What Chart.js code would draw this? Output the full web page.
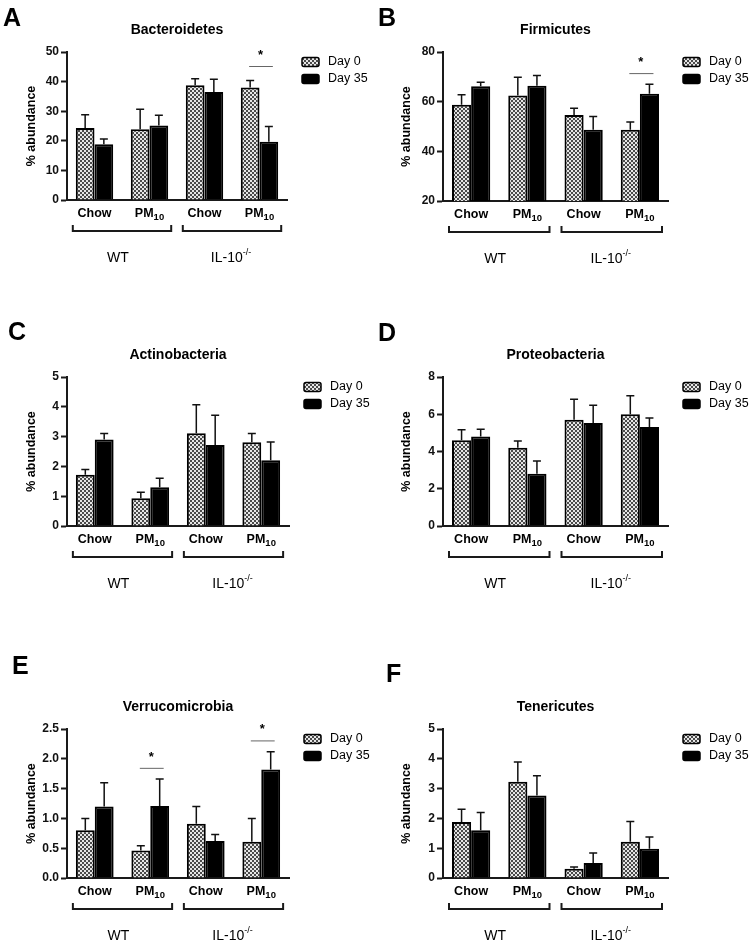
<!DOCTYPE html>
<html><head><meta charset="utf-8">
<script src="https://cdn.jsdelivr.net/npm/chart.js@4.4.1/dist/chart.umd.min.js"></script>
<style>
html,body{margin:0;padding:0;background:#fff;}
body{width:749px;height:943px;position:relative;overflow:hidden;}
canvas{position:absolute;display:block;}
</style>
</head><body>
<canvas id="cA" width="375" height="290" style="left:0;top:0;width:375px;height:290px"></canvas>
<canvas id="cB" width="374" height="290" style="left:375px;top:0;width:374px;height:290px"></canvas>
<canvas id="cC" width="375" height="310" style="left:0;top:290px;width:375px;height:310px"></canvas>
<canvas id="cD" width="374" height="310" style="left:375px;top:290px;width:374px;height:310px"></canvas>
<canvas id="cE" width="375" height="343" style="left:0;top:600px;width:375px;height:343px"></canvas>
<canvas id="cF" width="374" height="343" style="left:375px;top:600px;width:374px;height:343px"></canvas>
<script>
// ---------- data ----------
const categories = ['Chow', 'PM10', 'Chow', 'PM10'];
const genotypes = ['WT', 'IL-10'];
const seriesLabels = ['Day 0', 'Day 35'];

const bacteroidetesDay0 = [24.3, 23.9, 38.8, 38.0];
const bacteroidetesDay35 = [18.8, 25.2, 36.5, 19.7];
const bacteroidetesErr0 = [4.5, 6.8, 2.2, 2.4];
const bacteroidetesErr35 = [1.8, 3.4, 4.3, 5.1];
const bacteroidetesTicks = [0, 50, 10];
const bacteroidetesSig = [3];
const bacteroidetesSigLevel = [45.1];

const firmicutesDay0 = [58.8, 62.5, 54.6, 48.7];
const firmicutesDay35 = [66.2, 66.4, 48.7, 63.2];
const firmicutesErr0 = [4.0, 7.3, 2.7, 3.1];
const firmicutesErr35 = [1.6, 4.1, 5.3, 3.8];
const firmicutesTicks = [20, 80, 20];
const firmicutesSig = [3];
const firmicutesSigLevel = [71.3];

const actinobacteriaDay0 = [1.72, 0.93, 3.11, 2.81];
const actinobacteriaDay35 = [2.9, 1.3, 2.72, 2.21];
const actinobacteriaErr0 = [0.18, 0.2, 0.96, 0.29];
const actinobacteriaErr35 = [0.2, 0.3, 1.0, 0.61];
const actinobacteriaTicks = [0, 5, 1];
const actinobacteriaSig = [];
const actinobacteriaSigLevel = [];

const proteobacteriaDay0 = [4.6, 4.2, 5.7, 6.0];
const proteobacteriaDay35 = [4.8, 2.8, 5.53, 5.31];
const proteobacteriaErr0 = [0.57, 0.36, 1.1, 1.0];
const proteobacteriaErr35 = [0.4, 0.69, 0.95, 0.49];
const proteobacteriaTicks = [0, 8, 2];
const proteobacteriaSig = [];
const proteobacteriaSigLevel = [];

const verrucomicrobiaDay0 = [0.80, 0.46, 0.91, 0.61];
const verrucomicrobiaDay35 = [1.2, 1.21, 0.62, 1.82];
const verrucomicrobiaErr0 = [0.2, 0.08, 0.29, 0.39];
const verrucomicrobiaErr35 = [0.4, 0.45, 0.11, 0.3];
const verrucomicrobiaTicks = [0, 2.5, 0.5];
const verrucomicrobiaSig = [1, 3];
const verrucomicrobiaSigLevel = [1.84, 2.30];

const tenericutesDay0 = [1.88, 3.23, 0.31, 1.22];
const tenericutesDay35 = [1.6, 2.77, 0.5, 0.98];
const tenericutesErr0 = [0.43, 0.66, 0.06, 0.68];
const tenericutesErr35 = [0.6, 0.66, 0.34, 0.4];
const tenericutesTicks = [0, 5, 1];
const tenericutesSig = [];
const tenericutesSigLevel = [];

// ---------- layout / style ----------
const FONT = '"Liberation Sans", Arial, Helvetica, sans-serif';
const AXIS = '#1a1a1a';

function checker() {
  const c = document.createElement('canvas');
  c.width = 4; c.height = 4;
  const g = c.getContext('2d');
  g.fillStyle = '#e6e6e6'; g.fillRect(0, 0, 4, 4);
  g.fillStyle = '#4a4a4a'; g.fillRect(0, 0, 2, 2); g.fillRect(2, 2, 2, 2);
  return g.createPattern(c, 'repeat');
}
const PATTERN = checker();

const panels = [
  {canvas:'cA', letter:'A', letterX:3, title:'Bacteroidetes', d0:bacteroidetesDay0, d35:bacteroidetesDay35, e0:bacteroidetesErr0, e35:bacteroidetesErr35, ticks:bacteroidetesTicks, dec:0, sig:bacteroidetesSig, sigLv:bacteroidetesSigLevel, area:[67,287,52,200], letterY:19},
  {canvas:'cB', letter:'B', letterX:3, title:'Firmicutes', d0:firmicutesDay0, d35:firmicutesDay35, e0:firmicutesErr0, e35:firmicutesErr35, ticks:firmicutesTicks, dec:0, sig:firmicutesSig, sigLv:firmicutesSigLevel, area:[68,293,52,201], letterY:19},
  {canvas:'cC', letter:'C', letterX:8, title:'Actinobacteria', d0:actinobacteriaDay0, d35:actinobacteriaDay35, e0:actinobacteriaErr0, e35:actinobacteriaErr35, ticks:actinobacteriaTicks, dec:0, sig:actinobacteriaSig, sigLv:actinobacteriaSigLevel, area:[67,289,87,236], letterY:43},
  {canvas:'cD', letter:'D', letterX:3, title:'Proteobacteria', d0:proteobacteriaDay0, d35:proteobacteriaDay35, e0:proteobacteriaErr0, e35:proteobacteriaErr35, ticks:proteobacteriaTicks, dec:0, sig:proteobacteriaSig, sigLv:proteobacteriaSigLevel, area:[68,293,87,236], letterY:44},
  {canvas:'cE', letter:'E', letterX:12, title:'Verrucomicrobia', d0:verrucomicrobiaDay0, d35:verrucomicrobiaDay35, e0:verrucomicrobiaErr0, e35:verrucomicrobiaErr35, ticks:verrucomicrobiaTicks, dec:1, sig:verrucomicrobiaSig, sigLv:verrucomicrobiaSigLevel, area:[67,289,129,278], letterY:67},
  {canvas:'cF', letter:'F', letterX:11, title:'Tenericutes', d0:tenericutesDay0, d35:tenericutesDay35, e0:tenericutesErr0, e35:tenericutesErr35, ticks:tenericutesTicks, dec:0, sig:tenericutesSig, sigLv:tenericutesSigLevel, area:[68,293,129,278], letterY:75}
];

function drawSub(ctx, base, sub, cx, y, size, subSize, bold, shift) {
  const w = bold ? 'bold ' : '';
  ctx.font = w + size + 'px ' + FONT;
  const w1 = ctx.measureText(base).width;
  ctx.font = w + subSize + 'px ' + FONT;
  const w2 = ctx.measureText(sub).width;
  let x = cx - (w1 + w2) / 2;
  ctx.textAlign = 'left';
  ctx.textBaseline = 'alphabetic';
  ctx.font = w + size + 'px ' + FONT;
  ctx.fillText(base, x, y);
  ctx.font = w + subSize + 'px ' + FONT;
  ctx.fillText(sub, x + w1, y + shift);
}

const overlay = {
  id: 'overlay',
  afterDatasetsDraw(chart) {
    const ctx = chart.ctx, ys = chart.scales.y;
    ctx.save();
    ctx.strokeStyle = '#111'; ctx.lineWidth = 1.5;
    chart.data.datasets.forEach((ds, di) => {
      const meta = chart.getDatasetMeta(di);
      meta.data.forEach((el, i) => {
        const yE = ys.getPixelForValue(ds.data[i] + ds.errors[i]);
        ctx.beginPath();
        ctx.moveTo(el.x, el.y); ctx.lineTo(el.x, yE);
        ctx.moveTo(el.x - 4, yE); ctx.lineTo(el.x + 4, yE);
        ctx.stroke();
      });
    });
    ctx.restore();
  },
  afterDraw(chart) {
    const p = chart.options.plugins.overlay.panel;
    const ctx = chart.ctx, ca = chart.chartArea, xs = chart.scales.x, ys = chart.scales.y;
    ctx.save();
    ctx.fillStyle = '#000';
    ctx.font = 'bold 25px ' + FONT; ctx.textAlign = 'left'; ctx.textBaseline = 'middle';
    ctx.fillText(p.letter, p.letterX, p.letterY);
    ctx.font = 'bold 14px ' + FONT; ctx.textAlign = 'center';
    ctx.fillText(p.title, (ca.left + ca.right) / 2, ca.top - 22);
    ctx.save();
    ctx.translate(32, (ca.top + ca.bottom) / 2);
    ctx.rotate(-Math.PI / 2);
    ctx.font = 'bold 12.5px ' + FONT; ctx.textAlign = 'center'; ctx.textBaseline = 'middle';
    ctx.fillText('% abundance', 0, 0);
    ctx.restore();
    const meta0 = chart.getDatasetMeta(0), meta1 = chart.getDatasetMeta(1);
    const half = meta0.data[0].width;
    categories.forEach((c, i) => {
      const cx = xs.getPixelForValue(i);
      if (c === 'PM10') {
        drawSub(ctx, 'PM', '10', cx, ca.bottom + 17, 12.5, 9.5, true, 3);
      } else {
        ctx.font = 'bold 12.5px ' + FONT; ctx.textAlign = 'center'; ctx.textBaseline = 'alphabetic';
        ctx.fillText(c, cx, ca.bottom + 17);
      }
    });
    ctx.strokeStyle = AXIS; ctx.lineWidth = 2;
    genotypes.forEach((g, gi) => {
      const l = xs.getPixelForValue(gi * 2) - half - 3;
      const r = xs.getPixelForValue(gi * 2 + 1) + half + 3;
      const by = ca.bottom + 31;
      ctx.beginPath();
      ctx.moveTo(l, by - 6); ctx.lineTo(l, by); ctx.lineTo(r, by); ctx.lineTo(r, by - 6);
      ctx.stroke();
      const cx = (l + r) / 2;
      if (gi === 0) {
        ctx.font = '14px ' + FONT; ctx.textAlign = 'center'; ctx.textBaseline = 'alphabetic';
        ctx.fillText(g, cx - 4, ca.bottom + 62);
      } else {
        drawSub(ctx, g, '-/-', cx - 1, ca.bottom + 62, 14, 9, false, -7);
      }
    });
    const lx = ca.right + 15;
    [0, 1].forEach(k => {
      const yy = ca.top + 10 + k * 17;
      ctx.beginPath();
      if (ctx.roundRect) ctx.roundRect(lx, yy - 4.5, 17, 9, 2); else ctx.rect(lx, yy - 4.5, 17, 9);
      ctx.fillStyle = k === 0 ? PATTERN : '#000';
      ctx.fill();
      ctx.lineWidth = 1.5; ctx.strokeStyle = '#000'; ctx.stroke();
      ctx.fillStyle = '#000';
      ctx.font = '12.5px ' + FONT; ctx.textAlign = 'left'; ctx.textBaseline = 'middle';
      ctx.fillText(seriesLabels[k], lx + 26, yy);
    });
    p.sig.forEach((gi, k) => {
      const x0 = meta0.data[gi].x, x1 = meta1.data[gi].x;
      const y = ys.getPixelForValue(p.sigLv[k]);
      ctx.strokeStyle = '#666'; ctx.lineWidth = 1;
      ctx.beginPath(); ctx.moveTo(x0 - 1, y); ctx.lineTo(x1 + 4, y); ctx.stroke();
      ctx.fillStyle = '#000'; ctx.font = 'bold 13px ' + FONT; ctx.textAlign = 'center'; ctx.textBaseline = 'middle';
      ctx.fillText('*', (x0 + x1) / 2 + 1, y - 11);
    });
    ctx.restore();
  }
};

panels.forEach(p => {
  const cv = document.getElementById(p.canvas);
  const W = cv.width, H = cv.height;
  const [L, R, T, B] = p.area;
  new Chart(cv, {
    type: 'bar',
    data: {
      labels: categories,
      datasets: [
        {label: seriesLabels[0], data: p.d0, errors: p.e0, backgroundColor: PATTERN, borderColor: '#000', borderWidth: 2},
        {label: seriesLabels[1], data: p.d35, errors: p.e35, backgroundColor: '#000', borderColor: '#000', borderWidth: 2}
      ]
    },
    plugins: [overlay],
    options: {
      responsive: false,
      animation: false,
      devicePixelRatio: 1,
      categoryPercentage: 0.68,
      barPercentage: 1.0,
      layout: {padding: {left: 0, right: W - R, top: T, bottom: 0}},
      plugins: {legend: {display: false}, tooltip: {enabled: false}, overlay: {panel: p}},
      scales: {
        x: {
          offset: true,
          grid: {display: false},
          border: {display: true, color: AXIS, width: 2},
          ticks: {display: false},
          afterFit: s => { s.height = H - B; }
        },
        y: {
          min: p.ticks[0], max: p.ticks[1],
          grid: {display: true, drawOnChartArea: false, drawTicks: true, tickLength: 6, tickColor: AXIS, tickWidth: 2, color: AXIS},
          border: {display: true, color: AXIS, width: 2},
          ticks: {stepSize: p.ticks[2], padding: 2, color: '#111', font: {family: FONT, size: 12, weight: 'bold'},
                  callback: v => Number(v).toFixed(p.dec)},
          afterFit: s => { s.width = L; }
        }
      }
    }
  });
});
</script>
</body></html>
